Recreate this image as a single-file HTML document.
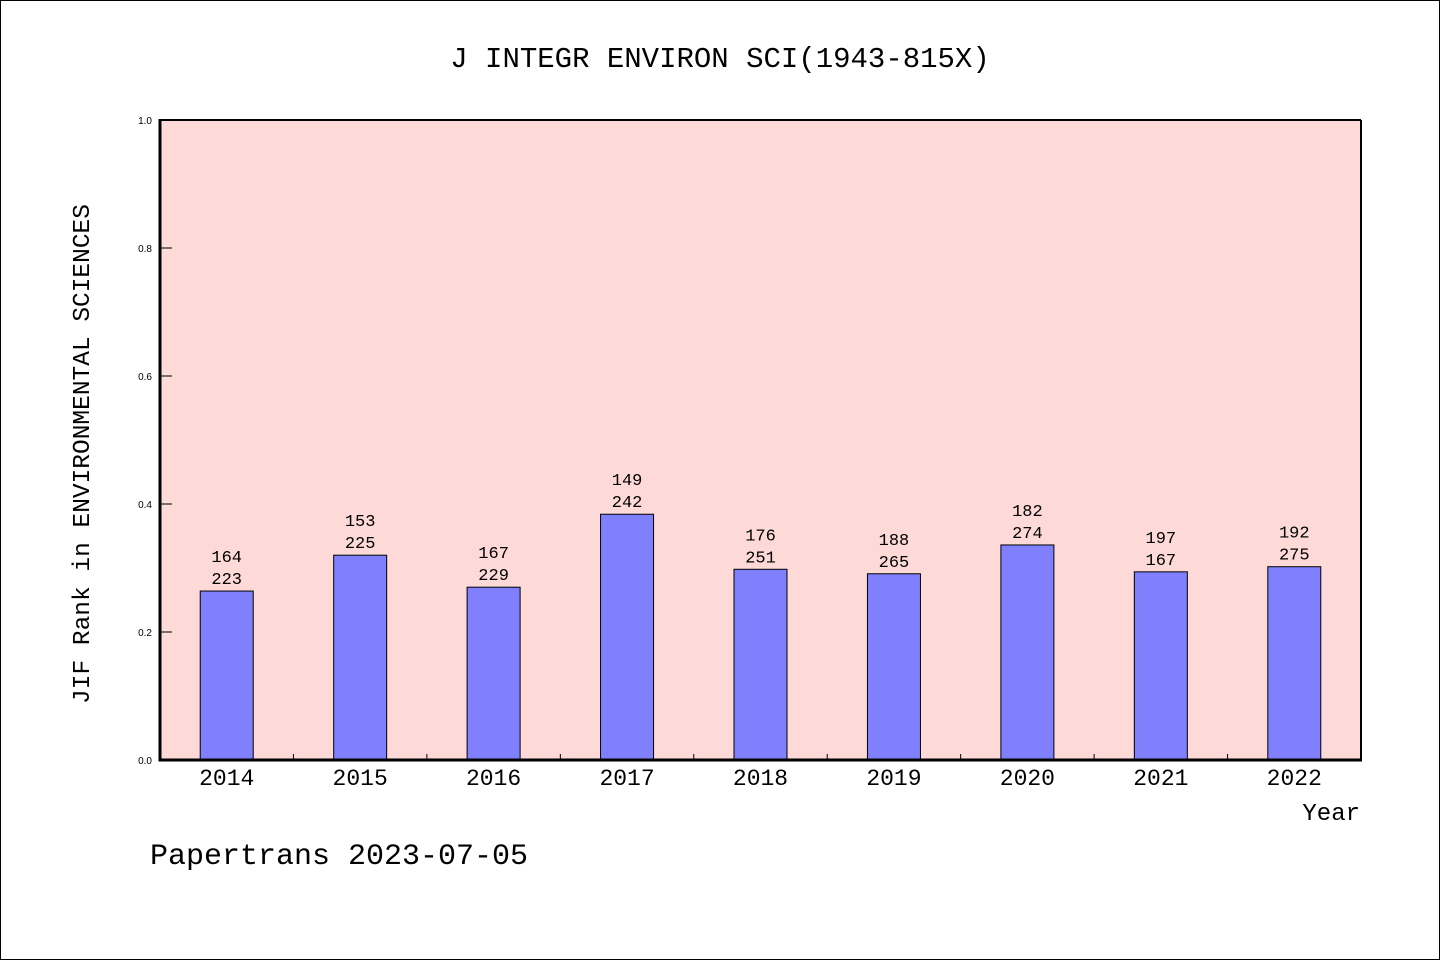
<!DOCTYPE html>
<html><head><meta charset="utf-8"><style>
body{margin:0;background:#fff}
svg{display:block}
text{font-family:"Liberation Mono","DejaVu Sans Mono",monospace;fill:#000}
</style></head><body>
<svg width="1440" height="960">
<rect x="0.5" y="0.5" width="1439" height="959" fill="#fff" stroke="#000"/>
<text x="720" y="67" font-size="29" text-anchor="middle">J INTEGR ENVIRON SCI(1943-815X)</text>
<rect x="160" y="120" width="1201" height="640" fill="#fddad7"/>
<g id="bars"></g>
<g id="axes"></g>
<text transform="translate(89,454) rotate(-90)" font-size="24.5" text-anchor="middle">JIF Rank in ENVIRONMENTAL SCIENCES</text>
<text x="1360" y="820" font-size="24" text-anchor="end">Year</text>
<text x="150" y="864" font-size="30">Papertrans 2023-07-05</text>
</svg>
<script>
const categories=["2014","2015","2016","2017","2018","2019","2020","2021","2022"];
const values=[0.264,0.320,0.270,0.384,0.298,0.291,0.336,0.294,0.302];
const ranks=["164","153","167","149","176","188","182","197","192"];
const totals=["223","225","229","242","251","265","274","167","275"];
const yTicks=["0.0","0.2","0.4","0.6","0.8","1.0"];
const NS="http://www.w3.org/2000/svg";
const X0=160,X1=1361,Y0=760,Y1=120;
const band=(X1-X0)/categories.length;
const xc=i=>X0+band*(i+0.5);
const y=v=>Y0-(v)*(Y0-Y1);
function mk(t,a,p){const e=document.createElementNS(NS,t);for(const k in a)e.setAttribute(k,a[k]);p.appendChild(e);return e;}
const bars=document.getElementById('bars'),axes=document.getElementById('axes');
categories.forEach((c,i)=>{
 const b=mk('rect',{x:xc(i)-26.5,y:y(values[i]),width:53,height:Y0-y(values[i]),fill:'#8080ff',stroke:'#000','stroke-width':1},bars);
 
 
 const t1=mk('text',{x:xc(i),y:y(values[i])-29,'font-size':17,'text-anchor':'middle'},bars);t1.textContent=ranks[i];
 
 
 const t2=mk('text',{x:xc(i),y:y(values[i])-7,'font-size':17,'text-anchor':'middle'},bars);t2.textContent=totals[i];
 
 
 const xl=mk('text',{x:xc(i),y:785,'font-size':23,'text-anchor':'middle'},axes);xl.textContent=c;
 
 
 if(i>0){const tk=mk('line',{x1:X0+band*i,x2:X0+band*i,y1:Y0,y2:Y0-6,stroke:'#000'},axes);
 
 }
});
yTicks.forEach(s=>{
 const v=parseFloat(s);
 const tk=mk('line',{x1:X0,x2:X0+12,y1:y(v),y2:y(v),stroke:'#000'},axes);
 
 
 const l=mk('text',{x:152,y:y(v)+4,'font-size':10,'text-anchor':'end','style':'font-family:"Liberation Sans",sans-serif'},axes);l.textContent=s;
 
 
});
const topBorder=mk('line',{x1:X0,x2:X1,y1:Y1,y2:Y1,stroke:'#000','stroke-width':2},axes);


const rightBorder=mk('line',{x1:X1,x2:X1,y1:Y1,y2:Y0,stroke:'#000','stroke-width':2},axes);


const leftAxis=mk('line',{x1:X0,x2:X0,y1:Y1-1,y2:Y0+1.5,stroke:'#000','stroke-width':3},axes);


const bottomAxis=mk('line',{x1:X0-1.5,x2:X1+1,y1:Y0,y2:Y0,stroke:'#000','stroke-width':3},axes);


</script>
</body></html>
